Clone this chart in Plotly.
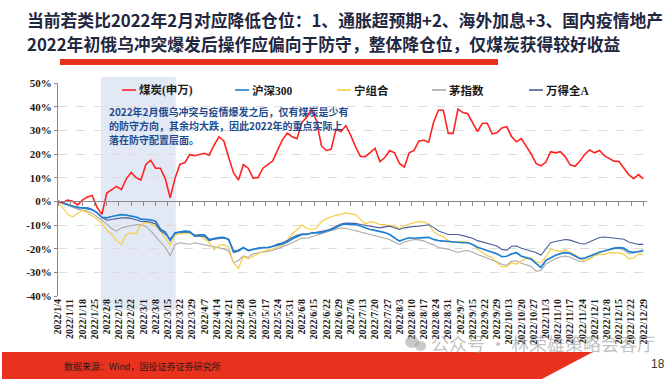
import plotly.graph_objects as go

# ---------------- data ----------------
date_labels = [
    "2022/1/4", "2022/1/11", "2022/1/18", "2022/1/25", "2022/2/8", "2022/2/15", "2022/2/22",
    "2022/3/1", "2022/3/8", "2022/3/15", "2022/3/22", "2022/3/29", "2022/4/7", "2022/4/14",
    "2022/4/21", "2022/4/28", "2022/5/10", "2022/5/17", "2022/5/24", "2022/5/31", "2022/6/8",
    "2022/6/15", "2022/6/22", "2022/6/29", "2022/7/6", "2022/7/13", "2022/7/20", "2022/7/27",
    "2022/8/3", "2022/8/10", "2022/8/17", "2022/8/24", "2022/8/31", "2022/9/7", "2022/9/15",
    "2022/9/22", "2022/9/29", "2022/10/13", "2022/10/20", "2022/10/27", "2022/11/3",
    "2022/11/10", "2022/11/17", "2022/11/24", "2022/12/1", "2022/12/8", "2022/12/15",
    "2022/12/22", "2022/12/29",
]
label_pos = list(range(0, 5 * len(date_labels), 5))      # trading-day index of each label
day_idx = list(range(0, 241, 2))                         # sampled trading days

series_names = ["煤炭(申万)", "沪深300", "宁组合", "茅指数", "万得全A"]

coal = [
    0, -0.5, 0.5, 0, -1.5, 0.5, 1.8, 2.5, -2.5, -5.5,
    3.5, 5, 6.3, 5, 9.5, 12.2, 10, 9, 15.5, 17.4,
    14, 14, 9.5, 1.5, 9.8, 15.7, 16.3, 19.7, 19.3, 19.8,
    20.3, 19.5, 23.8, 27.3, 25.5, 18.5, 12, 9, 15.5, 14,
    9.8, 10, 14, 15.5, 17, 21.5, 26, 28.8, 27.3, 26.5,
    33.3, 35.5, 39, 34, 23.5, 21.5, 22, 30.5, 29.4, 32,
    28, 23, 19, 18.9, 20.5, 22.4, 16.8, 18.5, 21.5, 20.5,
    16, 14.4, 20.5, 21.5, 25.5, 25.8, 25, 33.4, 38.5, 38.5,
    28.7, 28.7, 39, 37.5, 37, 33, 29.5, 33, 33, 28.5,
    29, 31, 31.5, 27.3, 25.2, 26.5, 23.5, 20, 16, 15,
    16.5, 21, 20.5, 21, 18.8, 15.4, 14.8, 17, 19.9, 21.7,
    20.5, 21.5, 19.3, 18.2, 17, 16.8, 14, 11.3, 9.6, 11.3,
    9.5,
]
hs300 = [
    0, -0.6, -1.3, -2, -2.7, -2.8, -2.8, -3.5, -4.8, -6.8,
    -7, -6.4, -6, -5.6, -5.8, -6.2, -6.6, -7.5, -7.5, -7.8,
    -8.4, -11.8, -13, -16.5, -13.3, -12.8, -12.6, -12.8, -14.5, -14.2,
    -14.2, -16.2, -15.6, -15.3, -15.2, -16.2, -21.5, -21, -19.5, -20.8,
    -20.3, -19.8, -19.6, -19.6, -19.2, -18.5, -18, -17.2, -15.9, -15,
    -14, -14, -13.4, -13.3, -13.2, -12.5, -12, -11.1, -10, -9.5,
    -9.5, -9.8, -10.4, -11.2, -11.9, -12.3, -12.6, -13.2, -14, -15.5,
    -16.8, -16, -15.4, -15.6, -15.6, -15.3, -15.2, -16.1, -16.6, -16.8,
    -16.8, -17.1, -17.5, -17.5, -17.5, -18.2, -19.4, -20, -20.7, -21.5,
    -22.2, -23.4, -23.2, -22.2, -21.7, -23.2, -23.8, -24.5, -26.2, -28,
    -25, -23.8, -22.8, -22.1, -21.7, -22, -23.2, -24.2, -24, -23.2,
    -22.2, -21.5, -21, -20.4, -19.8, -19.6, -19.8, -21.2, -21.6, -21.3,
    -21,
]
ning = [
    0, -3, -5.5, -6.5, -5, -3.8, -4.8, -6, -7.5, -9.5,
    -12.2, -14, -16.5, -18.2, -14, -13.3, -13.6, -10, -8.8, -9.6,
    -10.5, -12.5, -15.5, -18.5, -14.2, -13.6, -13.3, -13.5, -14, -14.5,
    -15.8, -17.5, -20.5, -18.5, -18.3, -19.5, -26, -28.3, -23.2, -24.3,
    -23.2, -22.2, -21.2, -20.6, -20.1, -19.5, -18.7, -16.5, -13.8, -12.1,
    -10, -11.5, -11.9, -11.3, -8.6, -7.3, -6.5, -5.9, -5.4, -4.9,
    -5.3, -5.6, -7.6, -9.6, -8.6, -9, -9.8, -9.8, -10.4, -10.2,
    -11.6, -10.3, -9.6, -9.2, -8.5, -8.8, -9.6, -12.7, -14.2, -15,
    -16.6, -17.4, -17.3, -16.9, -17.2, -18.2, -20.3, -21.5, -23, -23.6,
    -26, -27.6, -27.6, -25.9, -26.6, -25.2, -24.2, -23.8, -25.7, -25.9,
    -23.5, -20.2, -20.8, -21.2, -20.5, -21.6, -22.7, -24.2, -25, -24.5,
    -22.8, -22.4, -22.4, -21.7, -21.7, -21.8, -22.4, -24.3, -24, -22.3,
    -22.4,
]
mao = [
    0, -0.8, -1.8, -2.6, -3.3, -3.7, -4.1, -5, -6.4, -8,
    -9.6, -11.5, -12.6, -11.3, -10.7, -10.2, -9.9, -9.8, -10.6, -12.5,
    -14.7, -17.2, -19.5, -23, -18.3, -17.5, -17.8, -18.1, -17.5, -17.9,
    -18.4, -18.8, -19.4, -19.6, -20.1, -21, -26, -25, -23, -23.6,
    -22.2, -21.8, -21.5, -21.1, -20.8, -20, -19.3, -18.4, -17.5, -16.5,
    -15.5, -15.6, -15, -14.5, -14, -13.1, -12.3, -11.7, -11.3, -11.4,
    -11.9, -12.3, -12.9, -13.5, -14, -14.6, -15.1, -15.6, -16.1, -17.3,
    -18.2, -17.2, -16.7, -16.1, -16.3, -16.7, -17.7, -18.4, -19.5, -19.7,
    -20.2, -20.9, -21.6, -21, -20.8, -21.4, -22.5, -23.2, -24.1, -24.8,
    -25.5, -26.6, -27, -25.2, -25.2, -26.2, -26.8, -27.5, -29.5, -29.2,
    -26.5, -25.2, -24.2, -23.5, -23.1, -23.6, -24.6, -25.5, -25.2, -24.2,
    -22.8, -21.5, -21, -20.4, -20, -19.9, -20.6, -22, -21.8, -21.1,
    -20.4,
]
wind_a = [
    0, -0.7, -1.4, -2, -2.4, -2.7, -3, -3.6, -4.8, -6.8,
    -8, -7.6, -7.2, -7, -7, -7.2, -7.8, -8.5, -8.5, -8.8,
    -9.6, -12.5, -13.8, -16, -13.5, -13, -13, -13, -14.8, -14.6,
    -14.8, -16.6, -16, -15.6, -15.5, -16, -21, -20.6, -19.6, -20.8,
    -20.2, -19.7, -19.5, -19.5, -19, -18, -17.5, -16.6, -15.3, -14.3,
    -13.8, -13.8, -13.4, -13.1, -12.8, -12.3, -11.6, -10.7, -9.6, -9.2,
    -9.1, -9.3, -9.8, -10.2, -10.5, -10.9, -11.2, -10.8, -10.5, -11.2,
    -11.9, -11.2, -10.8, -10.6, -10.5, -10.1, -9.9, -11, -12.5, -13.3,
    -14, -14, -14, -14.5, -15, -15.6, -16.6, -17.2, -18, -18.4,
    -18.9, -20.3, -20.6, -19, -18.9, -19.8, -20.5, -21, -21.6, -22.8,
    -20, -17.5, -17, -16.6, -16.1, -16.4, -17.1, -17.8, -18, -17.1,
    -16, -15.3, -15.1, -15.3, -15.4, -15.5, -16, -17.2, -17.8, -18.2,
    -18.2,
]
y_ticks = [-40, -30, -20, -10, 0, 10, 20, 30, 40, 50]

title_lines = [
    "当前若类比2022年2月对应降低仓位：1、通胀超预期+2、海外加息+3、国内疫情地产",
    "2022年初俄乌冲突爆发后操作应偏向于防守，整体降仓位，仅煤炭获得较好收益",
]
note_lines = [
    "2022年2月俄乌冲突与疫情爆发之后，仅有煤炭是少有",
    "的防守方向，其余均大跌，因此2022年的重点实际上",
    "落在防守配置层面。",
]
source_text = "数据来源：Wind，国投证券证券研究所"
page_no = "18"
watermark = "公众号 · 林荣雄策略会客厅"

# ---------------- layout helpers ----------------
W, H = 670, 379
L, R, T, B = 58, 647, 83, 296


def px(x):
    return (x - L) / (R - L)


def py(y):
    return (B - y) / (B - T)


colors = ["#ff2323", "#1f7fd0", "#f6cd45", "#a8a8a8", "#4a5c9c"]
widths = [1.6, 1.7, 1.2, 1.1, 1.1]
values = [coal, hs300, ning, mao, wind_a]

fig = go.Figure()
draw_order = [3, 2, 4, 1, 0]
for i in draw_order:
    fig.add_trace(go.Scatter(
        x=day_idx, y=values[i], mode="lines", name=series_names[i],
        line=dict(color=colors[i], width=widths[i]), showlegend=False,
        hoverinfo="skip",
    ))
# empty trace just to activate the zero-line axis
fig.add_trace(go.Scatter(x=[], y=[], xaxis="x2", showlegend=False, hoverinfo="skip"))

serif = "Liberation Serif, Times New Roman, Noto Sans CJK SC, serif"
cjk = "Noto Sans CJK SC, sans-serif"

shapes = []
annotations = []

# shaded period
shapes.append(dict(type="rect", xref="x", yref="paper", x0=17.6, x1=48.3,
                   y0=py(310), y1=py(77), fillcolor="#e2e9f4", line_width=0,
                   layer="below"))

# custom legend
leg_y = py(90)
leg_line_x = [122, 235, 337, 432, 529]
for i, name in enumerate(series_names):
    x0 = leg_line_x[i]
    shapes.append(dict(type="line", xref="paper", yref="paper",
                       x0=px(x0), x1=px(x0 + 14), y0=leg_y, y1=leg_y,
                       line=dict(color=colors[i], width=1.6)))
    annotations.append(dict(text=name, xref="paper", yref="paper",
                            x=px(x0 + 15), y=leg_y, xanchor="left", yanchor="middle",
                            showarrow=False,
                            font=dict(family=serif, size=11.5, color="#1a1a1a", weight="bold")))

# title
for txt, yy in zip(title_lines, [20, 44.5]):
    annotations.append(dict(text=txt, xref="paper", yref="paper", x=px(25), y=py(yy),
                            xanchor="left", yanchor="middle", showarrow=False,
                            font=dict(family=cjk, size=16.8, color="#1f2741", weight="bold")))
# red underline
shapes.append(dict(type="rect", xref="paper", yref="paper", x0=px(60), x1=px(498),
                   y0=py(65), y1=py(59), fillcolor="#e8321e", line_width=0))

# note (one annotation per line)
for txt, yy in zip(note_lines, [111, 125, 139]):
    annotations.append(dict(text=txt, xref="paper", yref="paper", x=px(107), y=py(yy),
                            xanchor="left", yanchor="middle", align="left", showarrow=False,
                            font=dict(family=cjk, size=10, color="#1f4b8e", weight="bold")))

# footer band
shapes.append(dict(type="path", xref="paper", yref="paper",
                   path=(f"M {px(2)},{py(352)} L {px(593)},{py(352)} "
                         f"L {px(540)},{py(380)} L {px(2)},{py(380)} Z"),
                   fillcolor="#e8321e", line_width=0))
annotations.append(dict(text=source_text, xref="paper", yref="paper", x=px(62), y=py(366),
                        xanchor="left", yanchor="middle", showarrow=False,
                        font=dict(family=cjk, size=9, color="#2a1a1a")))
annotations.append(dict(text=page_no, xref="paper", yref="paper", x=px(658), y=py(364),
                        xanchor="center", yanchor="middle", showarrow=False,
                        font=dict(family="Liberation Sans, Arial", size=12, color="#333333")))
# watermark
shapes.append(dict(type="circle", xref="paper", yref="paper", x0=px(405), x1=px(419),
                   y0=py(348), y1=py(336), fillcolor="rgba(150,150,150,0.5)", line_width=0))
shapes.append(dict(type="circle", xref="paper", yref="paper", x0=px(415), x1=px(426),
                   y0=py(351), y1=py(341), fillcolor="rgba(150,150,150,0.5)", line_width=0))
annotations.append(dict(text=watermark, xref="paper", yref="paper", x=px(429), y=py(343),
                        xanchor="left", yanchor="middle", showarrow=False,
                        font=dict(family=cjk, size=18, color="rgba(140,140,140,0.55)")))

zero_pos = (0 - y_ticks[0]) / (y_ticks[-1] - y_ticks[0])

fig.update_layout(
    width=W, height=H,
    margin=dict(l=L, r=W - R, t=T, b=H - B, pad=0),
    paper_bgcolor="white", plot_bgcolor="white",
    showlegend=False,
    shapes=shapes, annotations=annotations,
    xaxis=dict(range=[0, 241.5], tickmode="array", tickvals=label_pos, ticktext=date_labels,
               tickangle=-90, showline=False, showgrid=False, zeroline=False, ticks="",
               tickfont=dict(family=serif, size=10, color="#1a1a1a", weight="bold")),
    xaxis2=dict(overlaying="x", matches="x", anchor="free", position=zero_pos,
                showline=True, linecolor="#8a8a8a", linewidth=1, ticks="outside",
                ticklen=4, tickcolor="#8a8a8a", tickmode="array", tickvals=label_pos,
                showticklabels=False, showgrid=False, zeroline=False),
    yaxis=dict(range=[y_ticks[0], y_ticks[-1]], tickmode="array", tickvals=y_ticks,
               ticktext=[f"{v}%" for v in y_ticks], showline=True, linecolor="#8a8a8a",
               linewidth=1, ticks="outside", ticklen=3, tickcolor="#8a8a8a",
               showgrid=True, gridcolor="#dcdcdc", griddash="dash", gridwidth=1,
               zeroline=False,
               tickfont=dict(family=serif, size=11, color="#1a1a1a", weight="bold")),
)

fig.write_html("out.html", config={"displayModeBar": False},
               post_script="document.body.style.margin='0';")
